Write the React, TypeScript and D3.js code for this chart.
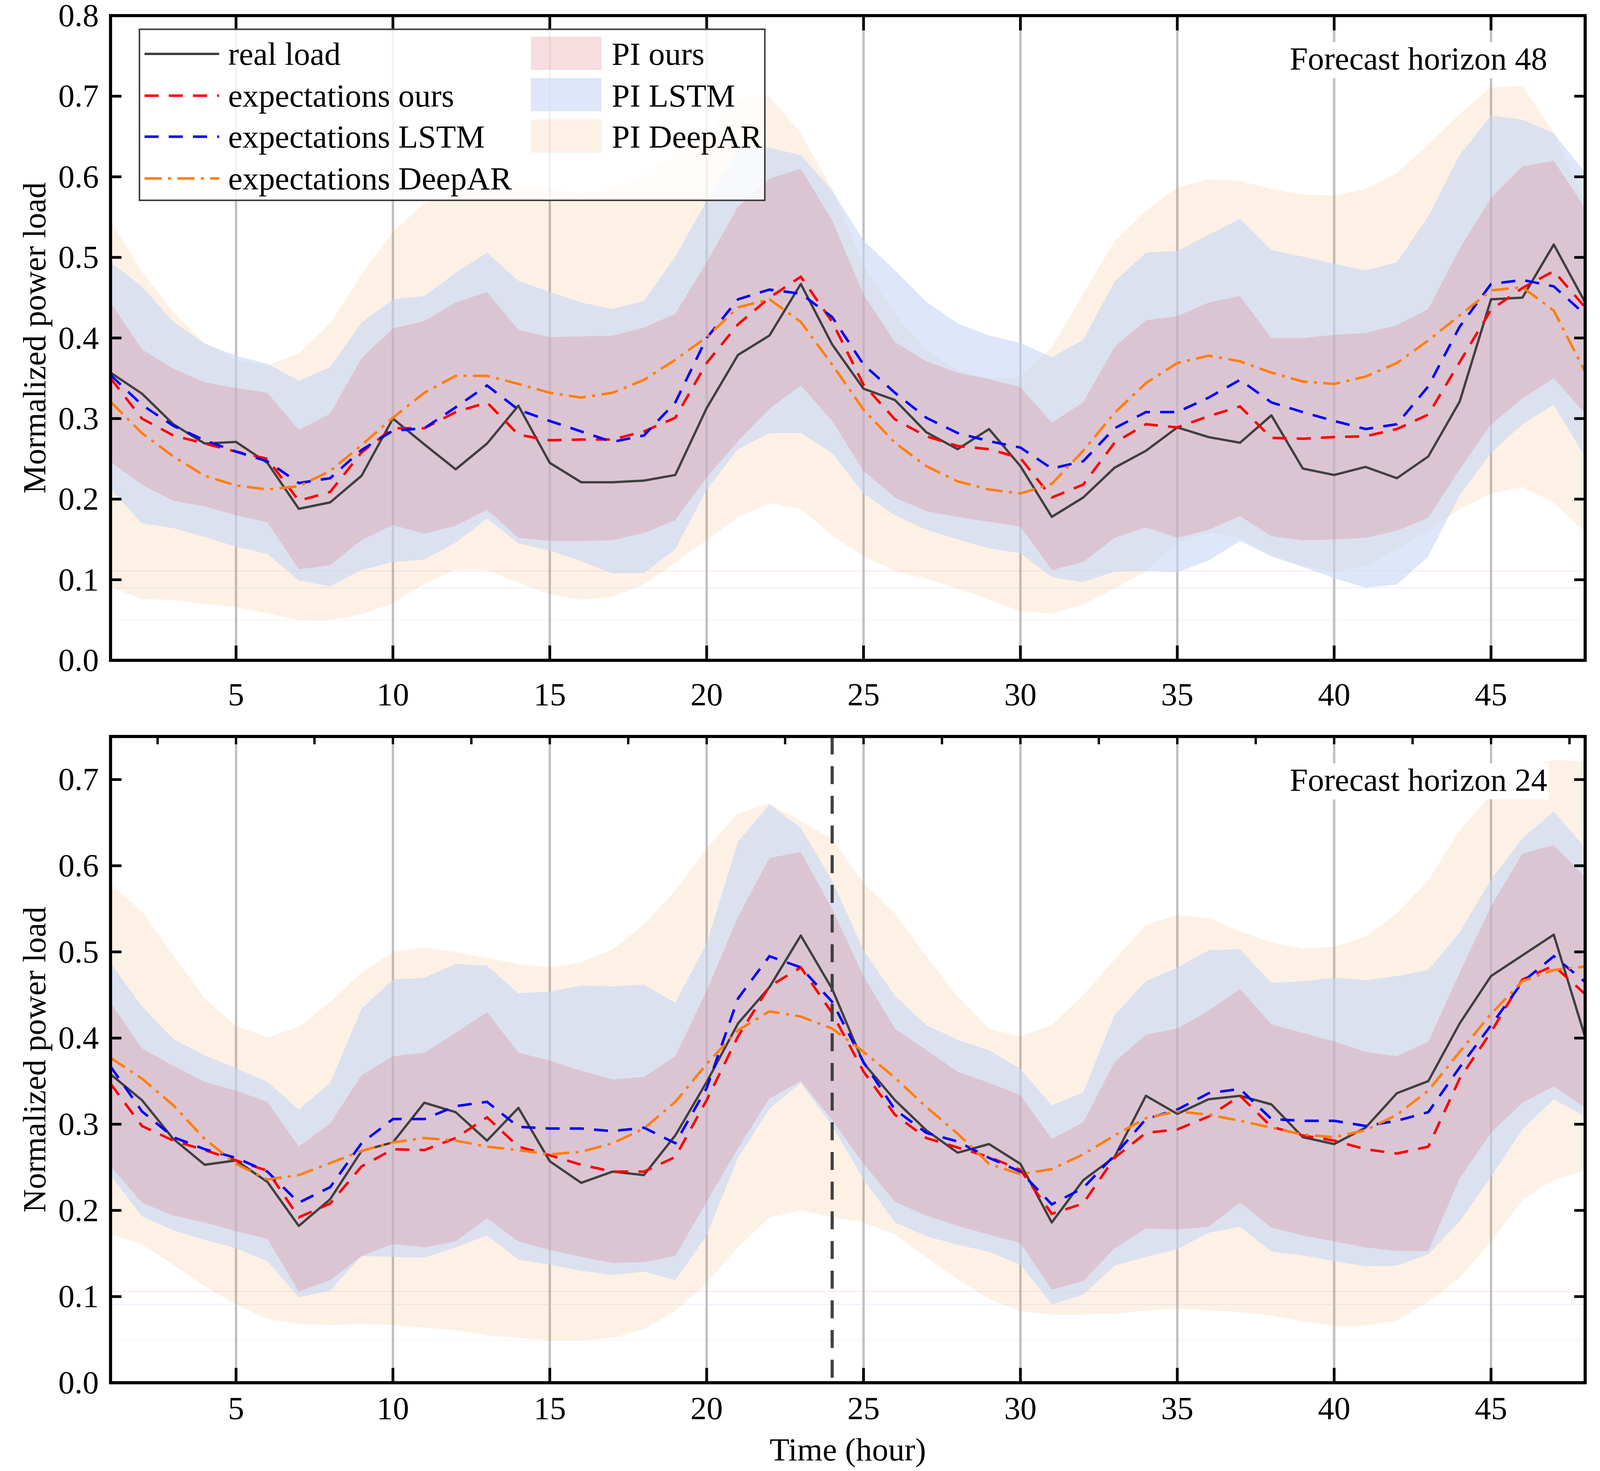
import React from "react";
import * as d3 from "d3";

const W = 4127;
const H = 3767;
const FONT = "'Liberation Serif', 'Times New Roman', Times, serif";
const FS = 83;

// x positions (hour index)
const hours = d3.range(1, 49);
const xTicks = [5, 10, 15, 20, 25, 30, 35, 40, 45];
const yTicks48 = [0, 0.1, 0.2, 0.3, 0.4, 0.5, 0.6, 0.7, 0.8];
const yTicks24 = [0, 0.1, 0.2, 0.3, 0.4, 0.5, 0.6, 0.7];

// ---- forecast horizon 48 (top) ----
const real48 = [0.357,0.331,0.293,0.269,0.271,0.245,0.188,0.196,0.229,0.300,0.268,0.237,0.269,0.316,0.245,0.221,0.221,0.223,0.230,0.313,0.379,0.403,0.467,0.392,0.337,0.323,0.283,0.262,0.287,0.241,0.178,0.202,0.239,0.260,0.289,0.277,0.270,0.304,0.238,0.230,0.240,0.226,0.253,0.321,0.448,0.450,0.516,0.444];
const ours48 = [0.350,0.300,0.279,0.269,0.259,0.250,0.198,0.209,0.258,0.288,0.288,0.308,0.320,0.280,0.273,0.274,0.274,0.284,0.301,0.369,0.417,0.450,0.476,0.420,0.342,0.299,0.278,0.266,0.262,0.251,0.202,0.218,0.270,0.293,0.289,0.303,0.315,0.276,0.275,0.277,0.278,0.287,0.305,0.370,0.435,0.462,0.483,0.438];
const lstm48 = [0.354,0.317,0.291,0.273,0.259,0.247,0.220,0.226,0.261,0.285,0.288,0.314,0.341,0.311,0.297,0.284,0.271,0.279,0.320,0.400,0.448,0.460,0.455,0.426,0.367,0.332,0.301,0.282,0.272,0.264,0.238,0.247,0.288,0.308,0.308,0.326,0.348,0.320,0.308,0.297,0.287,0.293,0.340,0.414,0.467,0.472,0.464,0.429];
const deep48 = [0.321,0.282,0.253,0.229,0.217,0.212,0.216,0.235,0.267,0.301,0.332,0.353,0.353,0.343,0.332,0.326,0.332,0.348,0.373,0.401,0.438,0.448,0.420,0.367,0.311,0.270,0.241,0.222,0.212,0.207,0.219,0.260,0.307,0.344,0.369,0.378,0.371,0.357,0.346,0.343,0.352,0.369,0.397,0.428,0.459,0.463,0.434,0.358];
const oursHi48 = [0.444,0.386,0.362,0.345,0.338,0.332,0.286,0.306,0.375,0.412,0.421,0.444,0.457,0.410,0.401,0.402,0.403,0.413,0.430,0.494,0.563,0.598,0.610,0.546,0.454,0.395,0.371,0.357,0.349,0.339,0.295,0.320,0.389,0.422,0.427,0.444,0.452,0.400,0.400,0.404,0.406,0.416,0.436,0.511,0.574,0.613,0.620,0.561];
const oursLo48 = [0.246,0.218,0.198,0.191,0.180,0.171,0.113,0.118,0.149,0.168,0.157,0.167,0.187,0.152,0.148,0.148,0.149,0.158,0.174,0.227,0.272,0.312,0.341,0.297,0.235,0.202,0.185,0.178,0.172,0.166,0.112,0.122,0.152,0.165,0.152,0.162,0.179,0.154,0.149,0.150,0.152,0.161,0.177,0.237,0.293,0.325,0.350,0.306];
const lstmHi48 = [0.494,0.464,0.420,0.393,0.378,0.368,0.347,0.364,0.419,0.448,0.452,0.481,0.506,0.471,0.457,0.444,0.436,0.446,0.501,0.570,0.635,0.636,0.627,0.583,0.521,0.484,0.445,0.418,0.403,0.394,0.376,0.398,0.470,0.506,0.508,0.528,0.548,0.509,0.501,0.492,0.484,0.494,0.551,0.627,0.676,0.671,0.654,0.605];
const lstmLo48 = [0.212,0.170,0.164,0.153,0.141,0.132,0.099,0.092,0.112,0.122,0.125,0.146,0.176,0.145,0.136,0.123,0.108,0.108,0.138,0.212,0.262,0.282,0.282,0.257,0.207,0.180,0.162,0.150,0.139,0.133,0.103,0.097,0.110,0.111,0.109,0.124,0.148,0.129,0.116,0.102,0.090,0.094,0.129,0.205,0.257,0.293,0.317,0.252];
const deepHi48 = [0.546,0.482,0.432,0.394,0.372,0.366,0.381,0.418,0.479,0.532,0.567,0.582,0.590,0.588,0.585,0.580,0.585,0.602,0.627,0.652,0.697,0.700,0.654,0.585,0.490,0.430,0.385,0.360,0.350,0.352,0.388,0.455,0.520,0.558,0.587,0.597,0.595,0.585,0.578,0.577,0.585,0.605,0.640,0.678,0.711,0.713,0.655,0.570];
const deepLo48 = [0.091,0.076,0.075,0.070,0.066,0.058,0.050,0.050,0.057,0.071,0.095,0.113,0.112,0.096,0.082,0.075,0.079,0.094,0.121,0.149,0.178,0.195,0.188,0.155,0.129,0.111,0.101,0.089,0.075,0.061,0.058,0.069,0.089,0.110,0.147,0.158,0.152,0.130,0.117,0.110,0.117,0.138,0.161,0.188,0.207,0.215,0.196,0.158];
const faint48 = [0.111, 0.090, 0.050];

// ---- forecast horizon 24 (bottom) ----
const real24 = [0.358,0.328,0.283,0.253,0.258,0.233,0.182,0.213,0.269,0.279,0.325,0.314,0.281,0.319,0.257,0.232,0.245,0.241,0.287,0.349,0.417,0.459,0.519,0.457,0.371,0.328,0.293,0.267,0.277,0.254,0.186,0.235,0.262,0.333,0.312,0.329,0.333,0.323,0.285,0.277,0.296,0.336,0.350,0.417,0.472,0.496,0.520,0.401];
const ours24 = [0.347,0.298,0.281,0.270,0.258,0.246,0.192,0.208,0.251,0.271,0.270,0.284,0.308,0.274,0.264,0.253,0.245,0.245,0.262,0.328,0.402,0.460,0.482,0.429,0.361,0.311,0.284,0.273,0.262,0.247,0.196,0.208,0.261,0.290,0.294,0.309,0.333,0.297,0.287,0.281,0.271,0.266,0.274,0.353,0.407,0.468,0.484,0.451];
const lstm24 = [0.367,0.315,0.285,0.271,0.261,0.245,0.209,0.227,0.278,0.306,0.306,0.321,0.326,0.297,0.295,0.295,0.292,0.296,0.278,0.342,0.446,0.495,0.482,0.442,0.372,0.317,0.290,0.280,0.261,0.245,0.207,0.226,0.264,0.306,0.317,0.336,0.341,0.306,0.304,0.304,0.298,0.304,0.314,0.366,0.415,0.465,0.495,0.465];
const deep24 = [0.377,0.353,0.322,0.283,0.254,0.236,0.241,0.255,0.269,0.279,0.284,0.281,0.274,0.270,0.265,0.268,0.278,0.295,0.326,0.370,0.409,0.431,0.425,0.411,0.384,0.354,0.320,0.289,0.254,0.242,0.248,0.265,0.287,0.307,0.315,0.311,0.304,0.296,0.288,0.285,0.293,0.311,0.339,0.384,0.428,0.466,0.479,0.483];
const oursHi24 = [0.441,0.388,0.368,0.349,0.339,0.326,0.274,0.301,0.357,0.379,0.383,0.406,0.430,0.383,0.374,0.362,0.352,0.355,0.379,0.455,0.541,0.609,0.616,0.550,0.472,0.411,0.386,0.361,0.348,0.334,0.283,0.302,0.372,0.404,0.411,0.432,0.457,0.416,0.406,0.396,0.384,0.379,0.396,0.476,0.553,0.614,0.624,0.587];
const oursLo24 = [0.251,0.209,0.194,0.186,0.176,0.167,0.106,0.119,0.147,0.161,0.157,0.164,0.191,0.164,0.154,0.146,0.139,0.140,0.147,0.210,0.272,0.330,0.350,0.305,0.254,0.210,0.194,0.182,0.172,0.162,0.108,0.118,0.156,0.179,0.178,0.181,0.209,0.180,0.171,0.164,0.157,0.153,0.153,0.237,0.290,0.325,0.344,0.319];
const lstmHi24 = [0.487,0.437,0.399,0.380,0.365,0.349,0.317,0.348,0.434,0.468,0.470,0.486,0.484,0.452,0.454,0.461,0.460,0.462,0.441,0.510,0.628,0.671,0.644,0.583,0.502,0.449,0.415,0.398,0.386,0.364,0.322,0.337,0.427,0.466,0.482,0.502,0.503,0.464,0.466,0.470,0.467,0.472,0.479,0.523,0.584,0.632,0.663,0.621];
const lstmLo24 = [0.241,0.193,0.177,0.166,0.156,0.141,0.099,0.107,0.147,0.146,0.145,0.157,0.171,0.143,0.137,0.130,0.125,0.129,0.119,0.171,0.261,0.318,0.348,0.298,0.236,0.186,0.170,0.160,0.152,0.137,0.091,0.102,0.136,0.146,0.155,0.174,0.181,0.152,0.148,0.141,0.135,0.136,0.149,0.187,0.239,0.294,0.329,0.309];
const deepHi24 = [0.579,0.547,0.496,0.446,0.414,0.401,0.413,0.442,0.476,0.500,0.505,0.500,0.493,0.486,0.482,0.488,0.503,0.532,0.571,0.620,0.661,0.672,0.652,0.631,0.580,0.545,0.495,0.448,0.411,0.402,0.415,0.450,0.491,0.531,0.543,0.539,0.524,0.511,0.504,0.506,0.518,0.545,0.583,0.641,0.682,0.712,0.723,0.721];
const deepLo24 = [0.172,0.161,0.137,0.112,0.091,0.074,0.068,0.067,0.068,0.067,0.064,0.061,0.055,0.052,0.049,0.049,0.052,0.062,0.083,0.116,0.157,0.192,0.200,0.192,0.186,0.172,0.146,0.120,0.097,0.083,0.079,0.079,0.080,0.084,0.086,0.084,0.082,0.078,0.071,0.066,0.066,0.072,0.094,0.122,0.164,0.212,0.236,0.246];
const faint24 = [0.106, 0.091, 0.049];

// styles
const C_REAL = "#404040";
const C_OURS = "#ff0000";
const C_LSTM = "#0000ff";
const C_DEEP = "#ff7f0e";
const F_OURS = { fill: "rgb(220,103,120)", op: 0.23 };
const F_LSTM = { fill: "rgb(198,215,245)", op: 0.6 };
const F_DEEP = { fill: "rgb(235,120,10)", op: 0.1 };
const DASH = "36 26";
const DASHDOT = "44 16 8 16";
const LW = 6.5;
const LW_REAL = 6;

const X0 = 283;
const X1 = 4058;
const fmt = d3.format(".1f");

function Legend() {
  const rows = [166, 273, 378, 485];
  const lines = [
    { label: "real load", color: C_REAL, dash: undefined, w: LW_REAL },
    { label: "expectations ours", color: C_OURS, dash: DASH, w: LW },
    { label: "expectations LSTM", color: C_LSTM, dash: DASH, w: LW },
    { label: "expectations DeepAR", color: C_DEEP, dash: DASHDOT, w: LW },
  ];
  const patches = [
    { label: "PI ours", f: F_OURS, y: 94 },
    { label: "PI LSTM", f: F_LSTM, y: 200 },
    { label: "PI DeepAR", f: F_DEEP, y: 306 },
  ];
  return (
    <g>
      <rect x={357} y={75} width={1601} height={438} fill="#fff" fillOpacity={0.8} stroke="#404040" strokeWidth={4} />
      {lines.map((l, i) => (
        <g key={l.label}>
          <line x1={370} x2={561} y1={rows[i] - 28} y2={rows[i] - 28} stroke={l.color} strokeWidth={l.w} strokeDasharray={l.dash} />
          <text x={584} y={rows[i]} fontSize={FS}>{l.label}</text>
        </g>
      ))}
      {patches.map((p, i) => (
        <g key={p.label}>
          <rect x={1359} y={p.y} width={181} height={85} fill={p.f.fill} fillOpacity={p.f.op} />
          <text x={1566} y={rows[i]} fontSize={FS}>{p.label}</text>
        </g>
      ))}
    </g>
  );
}

interface PanelProps {
  id: string;
  top: number;
  bottom: number;
  yMax: number;
  yTicks: number[];
  real: number[]; ours: number[]; lstm: number[]; deep: number[];
  oursHi: number[]; oursLo: number[]; lstmHi: number[]; lstmLo: number[]; deepHi: number[]; deepLo: number[];
  faint: number[];
  yLabel: string;
  horizon: string;
  horizonBase: number;
  xLabelGap: number;
  minorTop: boolean;
  splitHour?: number;
  legend?: boolean;
}

function Panel(p: PanelProps) {
  const x = d3.scaleLinear().domain([1, 48]).range([X0, X1]);
  const y = d3.scaleLinear().domain([0, p.yMax]).range([p.bottom, p.top]);
  const band = (lo: number[], hi: number[]) =>
    d3.area<number>().x((_, i) => x(hours[i])).y0((_, i) => y(lo[i])).y1((d) => y(d))(hi) || "";
  const line = (v: number[]) =>
    d3.line<number>().x((_, i) => x(hours[i])).y((d) => y(d))(v) || "";
  const clip = `clip-${p.id}`;
  const minor = d3.range(2.5, 48, 2.5).filter((t) => t % 5 !== 0);
  const faintCols = [F_OURS, F_LSTM, F_DEEP];
  const hw = 665;
  return (
    <g>
      <defs>
        <clipPath id={clip}>
          <rect x={X0} y={p.top} width={X1 - X0} height={p.bottom - p.top} />
        </clipPath>
      </defs>
      {xTicks.map((t) => (
        <line key={t} x1={x(t)} x2={x(t)} y1={p.top} y2={p.bottom} stroke="#c0c0c0" strokeWidth={6} />
      ))}
      <g clipPath={`url(#${clip})`}>
        {p.faint.map((v, i) => (
          <line key={i} x1={X0} x2={X1} y1={y(v)} y2={y(v)} stroke={faintCols[i].fill} strokeOpacity={faintCols[i].op * 0.8} strokeWidth={2} />
        ))}
        <path d={band(p.deepLo, p.deepHi)} fill={F_DEEP.fill} fillOpacity={F_DEEP.op} />
        <path d={band(p.lstmLo, p.lstmHi)} fill={F_LSTM.fill} fillOpacity={F_LSTM.op} />
        <path d={band(p.oursLo, p.oursHi)} fill={F_OURS.fill} fillOpacity={F_OURS.op} />
        <path d={line(p.real)} fill="none" stroke={C_REAL} strokeWidth={LW_REAL} strokeLinejoin="round" />
        <path d={line(p.ours)} fill="none" stroke={C_OURS} strokeWidth={LW} strokeDasharray={DASH} />
        <path d={line(p.lstm)} fill="none" stroke={C_LSTM} strokeWidth={LW} strokeDasharray={DASH} />
        <path d={line(p.deep)} fill="none" stroke={C_DEEP} strokeWidth={LW} strokeDasharray={DASHDOT} />
        {p.splitHour !== undefined && (
          <line x1={x(p.splitHour)} x2={x(p.splitHour)} y1={p.top} y2={p.bottom} stroke={C_REAL} strokeWidth={8} strokeDasharray="46 30" />
        )}
      </g>
      <rect x={3961 - hw - 12} y={p.horizonBase - 70} width={hw + 16} height={92} fill="#fff" />
      <text x={3961} y={p.horizonBase} fontSize={FS} textAnchor="end">{p.horizon}</text>
      {xTicks.map((t) => (
        <g key={t}>
          <line x1={x(t)} x2={x(t)} y1={p.bottom} y2={p.bottom - 38} stroke="#000" strokeWidth={7} />
          {!p.minorTop && <line x1={x(t)} x2={x(t)} y1={p.top} y2={p.top + 38} stroke="#000" strokeWidth={7} />}
          <text x={x(t)} y={p.bottom + p.xLabelGap} fontSize={FS} textAnchor="middle">{t}</text>
        </g>
      ))}
      {p.minorTop &&
        xTicks.concat(minor).map((t) => (
          <line key={`m${t}`} x1={x(t)} x2={x(t)} y1={p.top} y2={p.top + 20} stroke="#000" strokeWidth={6} />
        ))}
      {p.yTicks.map((t) => (
        <g key={t}>
          <line x1={X0} x2={X0 + 28} y1={y(t)} y2={y(t)} stroke="#000" strokeWidth={7} />
          <line x1={X1} x2={X1 - 28} y1={y(t)} y2={y(t)} stroke="#000" strokeWidth={7} />
          <text x={253} y={y(t) + 27} fontSize={FS} textAnchor="end">{fmt(t)}</text>
        </g>
      ))}
      <rect x={X0} y={p.top} width={X1 - X0} height={p.bottom - p.top} fill="none" stroke="#000" strokeWidth={8} />
      <text transform={`translate(116,${(p.top + p.bottom) / 2}) rotate(-90)`} fontSize={FS} textAnchor="middle">
        {p.yLabel}
      </text>
      {p.legend && <Legend />}
    </g>
  );
}

export default function App() {
  return (
    <svg
      width={W}
      height={H}
      viewBox={`0 0 ${W} ${H}`}
      style={{ position: "absolute", left: 0, top: 0, background: "#fff" }}
      fontFamily={FONT}
    >
      <rect width={W} height={H} fill="#fff" />
      <Panel
        id="h48"
        top={40}
        bottom={1691}
        yMax={0.8}
        yTicks={yTicks48}
        real={real48} ours={ours48} lstm={lstm48} deep={deep48}
        oursHi={oursHi48} oursLo={oursLo48} lstmHi={lstmHi48} lstmLo={lstmLo48} deepHi={deepHi48} deepLo={deepLo48}
        faint={faint48}
        yLabel="Mormalized power load"
        horizon="Forecast horizon 48"
        horizonBase={178}
        xLabelGap={115}
        minorTop={false}
        legend
      />
      <Panel
        id="h24"
        top={1886}
        bottom={3541}
        yMax={0.75}
        yTicks={yTicks24}
        real={real24} ours={ours24} lstm={lstm24} deep={deep24}
        oursHi={oursHi24} oursLo={oursLo24} lstmHi={lstmHi24} lstmLo={lstmLo24} deepHi={deepHi24} deepLo={deepLo24}
        faint={faint24}
        yLabel="Normalized power load"
        horizon="Forecast horizon 24"
        horizonBase={2025}
        xLabelGap={93}
        minorTop
        splitHour={24}
      />
      <text x={(X0 + X1) / 2} y={3740} fontSize={FS} textAnchor="middle">Time (hour)</text>
    </svg>
  );
}
